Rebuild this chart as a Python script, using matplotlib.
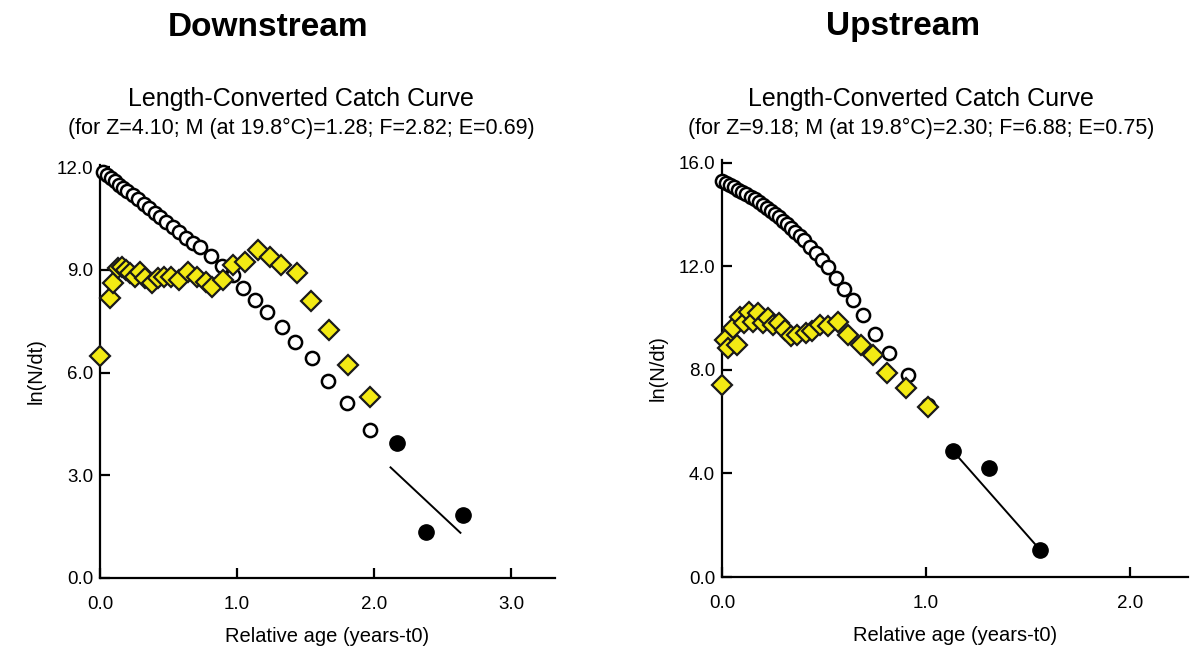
import matplotlib
matplotlib.use("Agg")
import matplotlib.pyplot as plt

plt.rcParams['font.family'] = ['Liberation Sans', 'DejaVu Sans']

# ---- Downstream data ----
down_open_x = [0.02, 0.05, 0.08, 0.11, 0.14, 0.17, 0.20, 0.24, 0.28, 0.32, 0.36, 0.40, 0.44, 0.48,
               0.53, 0.58, 0.63, 0.68, 0.73, 0.81, 0.89, 0.97, 1.04, 1.13, 1.22, 1.33, 1.42, 1.55,
               1.66, 1.80, 1.97]
down_open_y = [11.85, 11.76, 11.67, 11.58, 11.49, 11.40, 11.30, 11.18, 11.06, 10.93, 10.80, 10.67,
               10.54, 10.41, 10.25, 10.09, 9.93, 9.79, 9.66, 9.40, 9.10, 8.84, 8.47, 8.12, 7.77,
               7.33, 6.89, 6.42, 5.75, 5.11, 4.32]
down_yel_x = [0.0, 0.07, 0.095, 0.13, 0.16, 0.19, 0.22, 0.255, 0.29, 0.33, 0.38, 0.42, 0.47, 0.52,
              0.58, 0.64, 0.71, 0.77, 0.82, 0.90, 0.97, 1.06, 1.15, 1.24, 1.32, 1.44, 1.54, 1.67,
              1.81, 1.97]
down_yel_y = [6.48, 8.18, 8.61, 9.05, 9.08, 9.00, 8.90, 8.80, 8.93, 8.76, 8.61, 8.76, 8.79, 8.79,
              8.70, 8.93, 8.79, 8.64, 8.50, 8.70, 9.14, 9.23, 9.58, 9.37, 9.14, 8.90, 8.09, 7.24,
              6.22, 5.28]
down_fit_pts_x = [2.17, 2.38, 2.65]
down_fit_pts_y = [3.95, 1.35, 1.84]
down_line_x = [2.12, 2.63]
down_line_y = [3.23, 1.32]

# ---- Upstream data ----
up_open_x = [0.00, 0.02, 0.04, 0.06, 0.08, 0.10, 0.12, 0.14, 0.16, 0.18, 0.20, 0.22, 0.24, 0.26,
             0.28, 0.30, 0.32, 0.34, 0.36, 0.38, 0.40, 0.43, 0.46, 0.49, 0.52, 0.56, 0.60, 0.64,
             0.69, 0.75, 0.82, 0.91, 1.01]
up_open_y = [15.28, 15.21, 15.13, 15.05, 14.96, 14.87, 14.78, 14.68, 14.58, 14.47, 14.36, 14.25,
             14.13, 14.01, 13.88, 13.75, 13.61, 13.47, 13.32, 13.17, 13.01, 12.76, 12.50, 12.23,
             11.95, 11.55, 11.13, 10.68, 10.10, 9.40, 8.65, 7.80, 6.64]
up_yel_x = [0.0, 0.015, 0.03, 0.055, 0.075, 0.09, 0.11, 0.13, 0.15, 0.175, 0.20, 0.225, 0.25,
            0.28, 0.31, 0.34, 0.37, 0.41, 0.44, 0.48, 0.52, 0.57, 0.62, 0.68, 0.74, 0.81, 0.90,
            1.01]
up_yel_y = [7.41, 9.15, 8.84, 9.61, 8.96, 10.05, 9.80, 10.24, 9.85, 10.19, 9.82, 10.00, 9.73,
            9.80, 9.54, 9.30, 9.36, 9.42, 9.48, 9.73, 9.68, 9.85, 9.34, 8.96, 8.57, 7.88, 7.30,
            6.58]
up_fit_pts_x = [1.13, 1.31, 1.56]
up_fit_pts_y = [4.88, 4.20, 1.04]
up_line_x = [1.13, 1.56]
up_line_y = [4.88, 1.04]

W, H = 1193, 649
fig = plt.figure(figsize=(W / 100, H / 100), dpi=100)


def px_axes(x0, y_top, x1, y_bot):
    return fig.add_axes([x0 / W, (H - y_bot) / H, (x1 - x0) / W, (y_bot - y_top) / H])


def draw_panel(ax, ox, oy, yx, yy, fx, fy, lx, ly, xlim, ylim, xt, yt):
    ax.plot(ox, oy, 'o', ms=9.5, mfc='white', mec='black', mew=1.8, clip_on=False, zorder=3)
    ax.plot(yx, yy, 'D', ms=10, mfc='#f3ea14', mec='#1a1a1a', mew=1.6, clip_on=False, zorder=4)
    ax.plot(fx, fy, 'o', ms=11, mfc='black', mec='black', clip_on=False, zorder=4)
    ax.plot(lx, ly, '-', color='black', lw=1.4, zorder=2)
    ax.set_xlim(xlim)
    ax.set_ylim(ylim)
    ax.set_xticks(xt)
    ax.set_yticks(yt)
    ax.set_xticklabels(['%.1f' % v for v in xt])
    ax.set_yticklabels(['%.1f' % v for v in yt])
    for s in ['top', 'right']:
        ax.spines[s].set_visible(False)
    for s in ['left', 'bottom']:
        ax.spines[s].set_linewidth(1.6)
    ax.tick_params(direction='in', length=7, width=1.6, labelsize=13.5)
    ax.tick_params(axis='y', pad=5)
    ax.tick_params(axis='x', pad=13)
    ax.set_xlabel('Relative age (years-t0)', fontsize=14.5, labelpad=10)
    ax.set_ylabel('ln(N/dt)', fontsize=14.5, labelpad=8)


ax1 = px_axes(100, 165, 555, 578)
draw_panel(ax1, down_open_x, down_open_y, down_yel_x, down_yel_y, down_fit_pts_x, down_fit_pts_y,
           down_line_x, down_line_y, (0, 3.32), (0, 12.06), [0.0, 1.0, 2.0, 3.0],
           [0.0, 3.0, 6.0, 9.0, 12.0])

ax2 = px_axes(722, 160, 1188, 577)
draw_panel(ax2, up_open_x, up_open_y, up_yel_x, up_yel_y, up_fit_pts_x, up_fit_pts_y,
           up_line_x, up_line_y, (0, 2.284), (0, 16.1), [0.0, 1.0, 2.0],
           [0.0, 4.0, 8.0, 12.0, 16.0])

fig.text(268 / W, 1 - 27 / H, 'Downstream', fontsize=24, fontweight='bold', ha='center', va='center')
fig.text(903 / W, 1 - 27 / H, 'Upstream', fontsize=24, fontweight='bold', ha='center', va='center')

fig.text(301 / W, 1 - 99 / H, 'Length-Converted Catch Curve', fontsize=18, ha='center', va='center')
fig.text(301 / W, 1 - 128 / H, '(for Z=4.10; M (at 19.8\u00b0C)=1.28; F=2.82; E=0.69)',
         fontsize=15.5, ha='center', va='center')
fig.text(921 / W, 1 - 99 / H, 'Length-Converted Catch Curve', fontsize=18, ha='center', va='center')
fig.text(921 / W, 1 - 128 / H, '(for Z=9.18; M (at 19.8\u00b0C)=2.30; F=6.88; E=0.75)',
         fontsize=15.5, ha='center', va='center')

fig.savefig('out.png', dpi=100)
